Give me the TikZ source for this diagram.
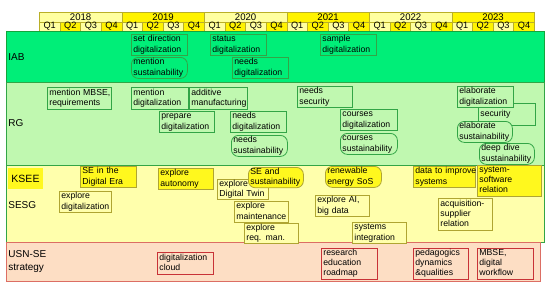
\documentclass[tikz,border=0pt]{standalone}
\usepackage{fontspec}
\setmainfont{Liberation Sans}
\definecolor{iab}{RGB}{0,238,120}
\definecolor{iabline}{RGB}{20,165,60}
\definecolor{rg}{RGB}{192,248,176}
\definecolor{gline}{RGB}{50,165,70}
\definecolor{sesg}{RGB}{255,255,172}
\definecolor{ksee}{RGB}{255,248,30}
\definecolor{oline}{RGB}{175,165,50}
\definecolor{usn}{RGB}{253,222,196}
\definecolor{usnline}{RGB}{220,110,100}
\definecolor{rline}{RGB}{200,50,55}
\definecolor{hpale}{RGB}{255,255,160}
\definecolor{hbright}{RGB}{255,243,0}
\definecolor{hline}{RGB}{185,175,40}
\newcommand\tlbox[7]{%
  \pgfmathsetmacro\tlbw{#5-#3-4}%
  \pgfmathsetmacro\tlbh{#6-#4}%
  \node[#1, text width=\tlbw pt, minimum height=\tlbh pt] (#2) at (#3,#4)
    {\begin{tabular}{@{}l@{}}#7\end{tabular}};}
\begin{document}
\begin{tikzpicture}[x=1pt,y=-1pt, line width=0.8pt,
  every node/.style={font=\fontsize{8.7}{10.2}\selectfont, text=black},
  bxs/.style={inner xsep=2pt, inner ysep=0pt, align=left, anchor=north west},
  iabb/.style={bxs, draw=gline, fill=iab},
  rgbox/.style={bxs, draw=gline, fill=rg},
  kb/.style={bxs, draw=oline, fill=ksee},
  sb/.style={bxs, draw=oline, fill=sesg},
  ub/.style={bxs, draw=rline, fill=usn},
  rnd/.style={rounded corners=7pt},
  hcell/.style={draw=hline, inner sep=0pt, anchor=north west},
  lbl/.style={anchor=west, font=\fontsize{10}{12.5}\selectfont, align=left, inner sep=0pt}]
\useasboundingbox (0,0) rectangle (550,289);
\fill[white] (0,0) rectangle (550,289);
% header
\foreach \i/\yr in {0/2018,1/2019,2/2020,3/2021,4/2022,5/2023}{
  \pgfmathsetmacro\xa{39+82.5*\i}
  \pgfmathtruncatemacro\odd{mod(\i,2)}
  \ifnum\odd=0 \def\yc{hpale}\else\def\yc{hbright}\fi
  \node[hcell, fill=\yc, minimum width=82.5pt, minimum height=9.5pt,
        font=\fontsize{9.6}{10}\selectfont] (y\i) at (\xa,12) {\yr};
  \foreach \j in {0,...,3}{
    \pgfmathsetmacro\xq{\xa+20.625*\j}
    \pgfmathtruncatemacro\qodd{mod(\j,2)}
    \ifnum\qodd=0 \def\qc{hpale}\else\def\qc{hbright}\fi
    \pgfmathtruncatemacro\qn{\j+1}
    \node[hcell, fill=\qc, minimum width=20.625pt, minimum height=9.5pt,
          font=\fontsize{9.2}{10}\selectfont] (q\i\j) at (\xq,21.5) {Q\qn};
  }
}
% lanes
\draw[fill=iab, draw=iabline] (6,31) rectangle (544,82);
\draw[fill=rg, draw=gline] (6,82) rectangle (544,165);
\draw[fill=sesg, draw=gline] (6,165) rectangle (544,242);
\draw[fill=usn, draw=usnline] (6,242) rectangle (540,281);
% lane labels
\node[lbl] (lIAB) at (8,57) {IAB};
\node[lbl] (lRG) at (8,123) {RG};
\node[fill=ksee, minimum width=35pt, minimum height=21pt, inner sep=0pt,
      font=\fontsize{10.5}{12}\selectfont] (lKSEE) at (25.5,178.5) {KSEE};
\node[lbl] (lSESG) at (8,205) {SESG};
\node[lbl] (lUSN) at (8,261.5) {USN-SE\\strategy};
% IAB
\tlbox{iabb}{i1}{131}{34}{187}{55}{set direction\\digitalization}
\tlbox{iabb,rnd}{i2}{131}{57}{187}{78}{mention\\sustainability}
\tlbox{iabb}{i3}{210}{34}{266}{55}{status\\digitalization}
\tlbox{iabb}{i4}{232}{57}{288}{78}{needs\\digitalization}
\tlbox{iabb}{i5}{320}{34}{376}{55}{sample\\digitalization}
% RG
\tlbox{rgbox}{r1}{47}{87}{111}{109}{mention MBSE,\\requirements}
\tlbox{rgbox}{r2}{131}{87}{188}{109}{mention\\digitalization}
\tlbox{rgbox}{r3}{189}{87}{247}{109}{additive\\manufacturing}
\tlbox{rgbox}{r4}{159}{111}{214}{132}{prepare\\digitalization}
\tlbox{rgbox}{r5}{230}{111}{286}{132}{needs\\digitalization}
\tlbox{rgbox,rnd}{r6}{231}{135}{287}{156}{needs\\sustainability}
\tlbox{rgbox}{r7}{297}{86}{352}{107}{needs\\security}
\tlbox{rgbox}{r8}{340}{109}{397}{130}{courses\\digitalization}
\tlbox{rgbox,rnd}{r9}{340}{133}{397}{154}{courses\\sustainability}
\tlbox{rgbox}{r11}{478}{103}{535}{125}{security}
\tlbox{rgbox}{r10}{457}{86}{513}{107}{elaborate\\digitalization}
\tlbox{rgbox,rnd}{r12}{457}{121}{512}{142}{elaborate\\sustainability}
\tlbox{rgbox,rnd}{r13}{479}{143}{534}{164}{deep dive\\sustainability}
% KSEE / SESG
\tlbox{kb}{k1}{80}{166}{136}{187}{SE in the\\Digital Era}
\tlbox{kb}{k2}{158}{168}{213}{189}{explore\\autonomy}
\tlbox{sb}{s2}{217}{179}{268}{199}{explore\\Digital Twin}
\tlbox{kb,rnd}{k3}{248}{167}{303}{187}{SE and\\sustainability}
\tlbox{kb,rnd}{k4}{325}{166}{381}{187}{renewable\\energy SoS}
\tlbox{kb}{k5}{413}{166}{475}{187}{data to improve\\systems}
\tlbox{kb}{k6}{477}{165}{541}{195}{system-\\software\\relation}
\tlbox{sb}{s1}{59}{191}{111}{212}{explore\\digitalization}
\tlbox{sb}{s3}{234}{201}{288}{222}{explore\\maintenance}
\tlbox{sb}{s4}{244}{223}{298}{243}{explore\\req. man.}
\tlbox{sb}{s5}{315}{195}{369}{216}{explore AI,\\big data}
\tlbox{sb}{s6}{352}{222}{406}{243}{systems\\integration}
\tlbox{sb}{s7}{438}{198}{492}{230}{acquisition-\\supplier\\relation}
% USN-SE
\tlbox{ub}{u1}{157}{252}{213}{274}{digitalization\\cloud}
\tlbox{ub}{u2}{321}{248}{377}{278}{research\\education\\roadmap}
\tlbox{ub}{u3}{413}{248}{468}{278}{pedagogics\\dynamics\\\&qualities}
\tlbox{ub}{u4}{477}{248}{533}{278}{MBSE,\\digital\\workflow}
\end{tikzpicture}
\end{document}
